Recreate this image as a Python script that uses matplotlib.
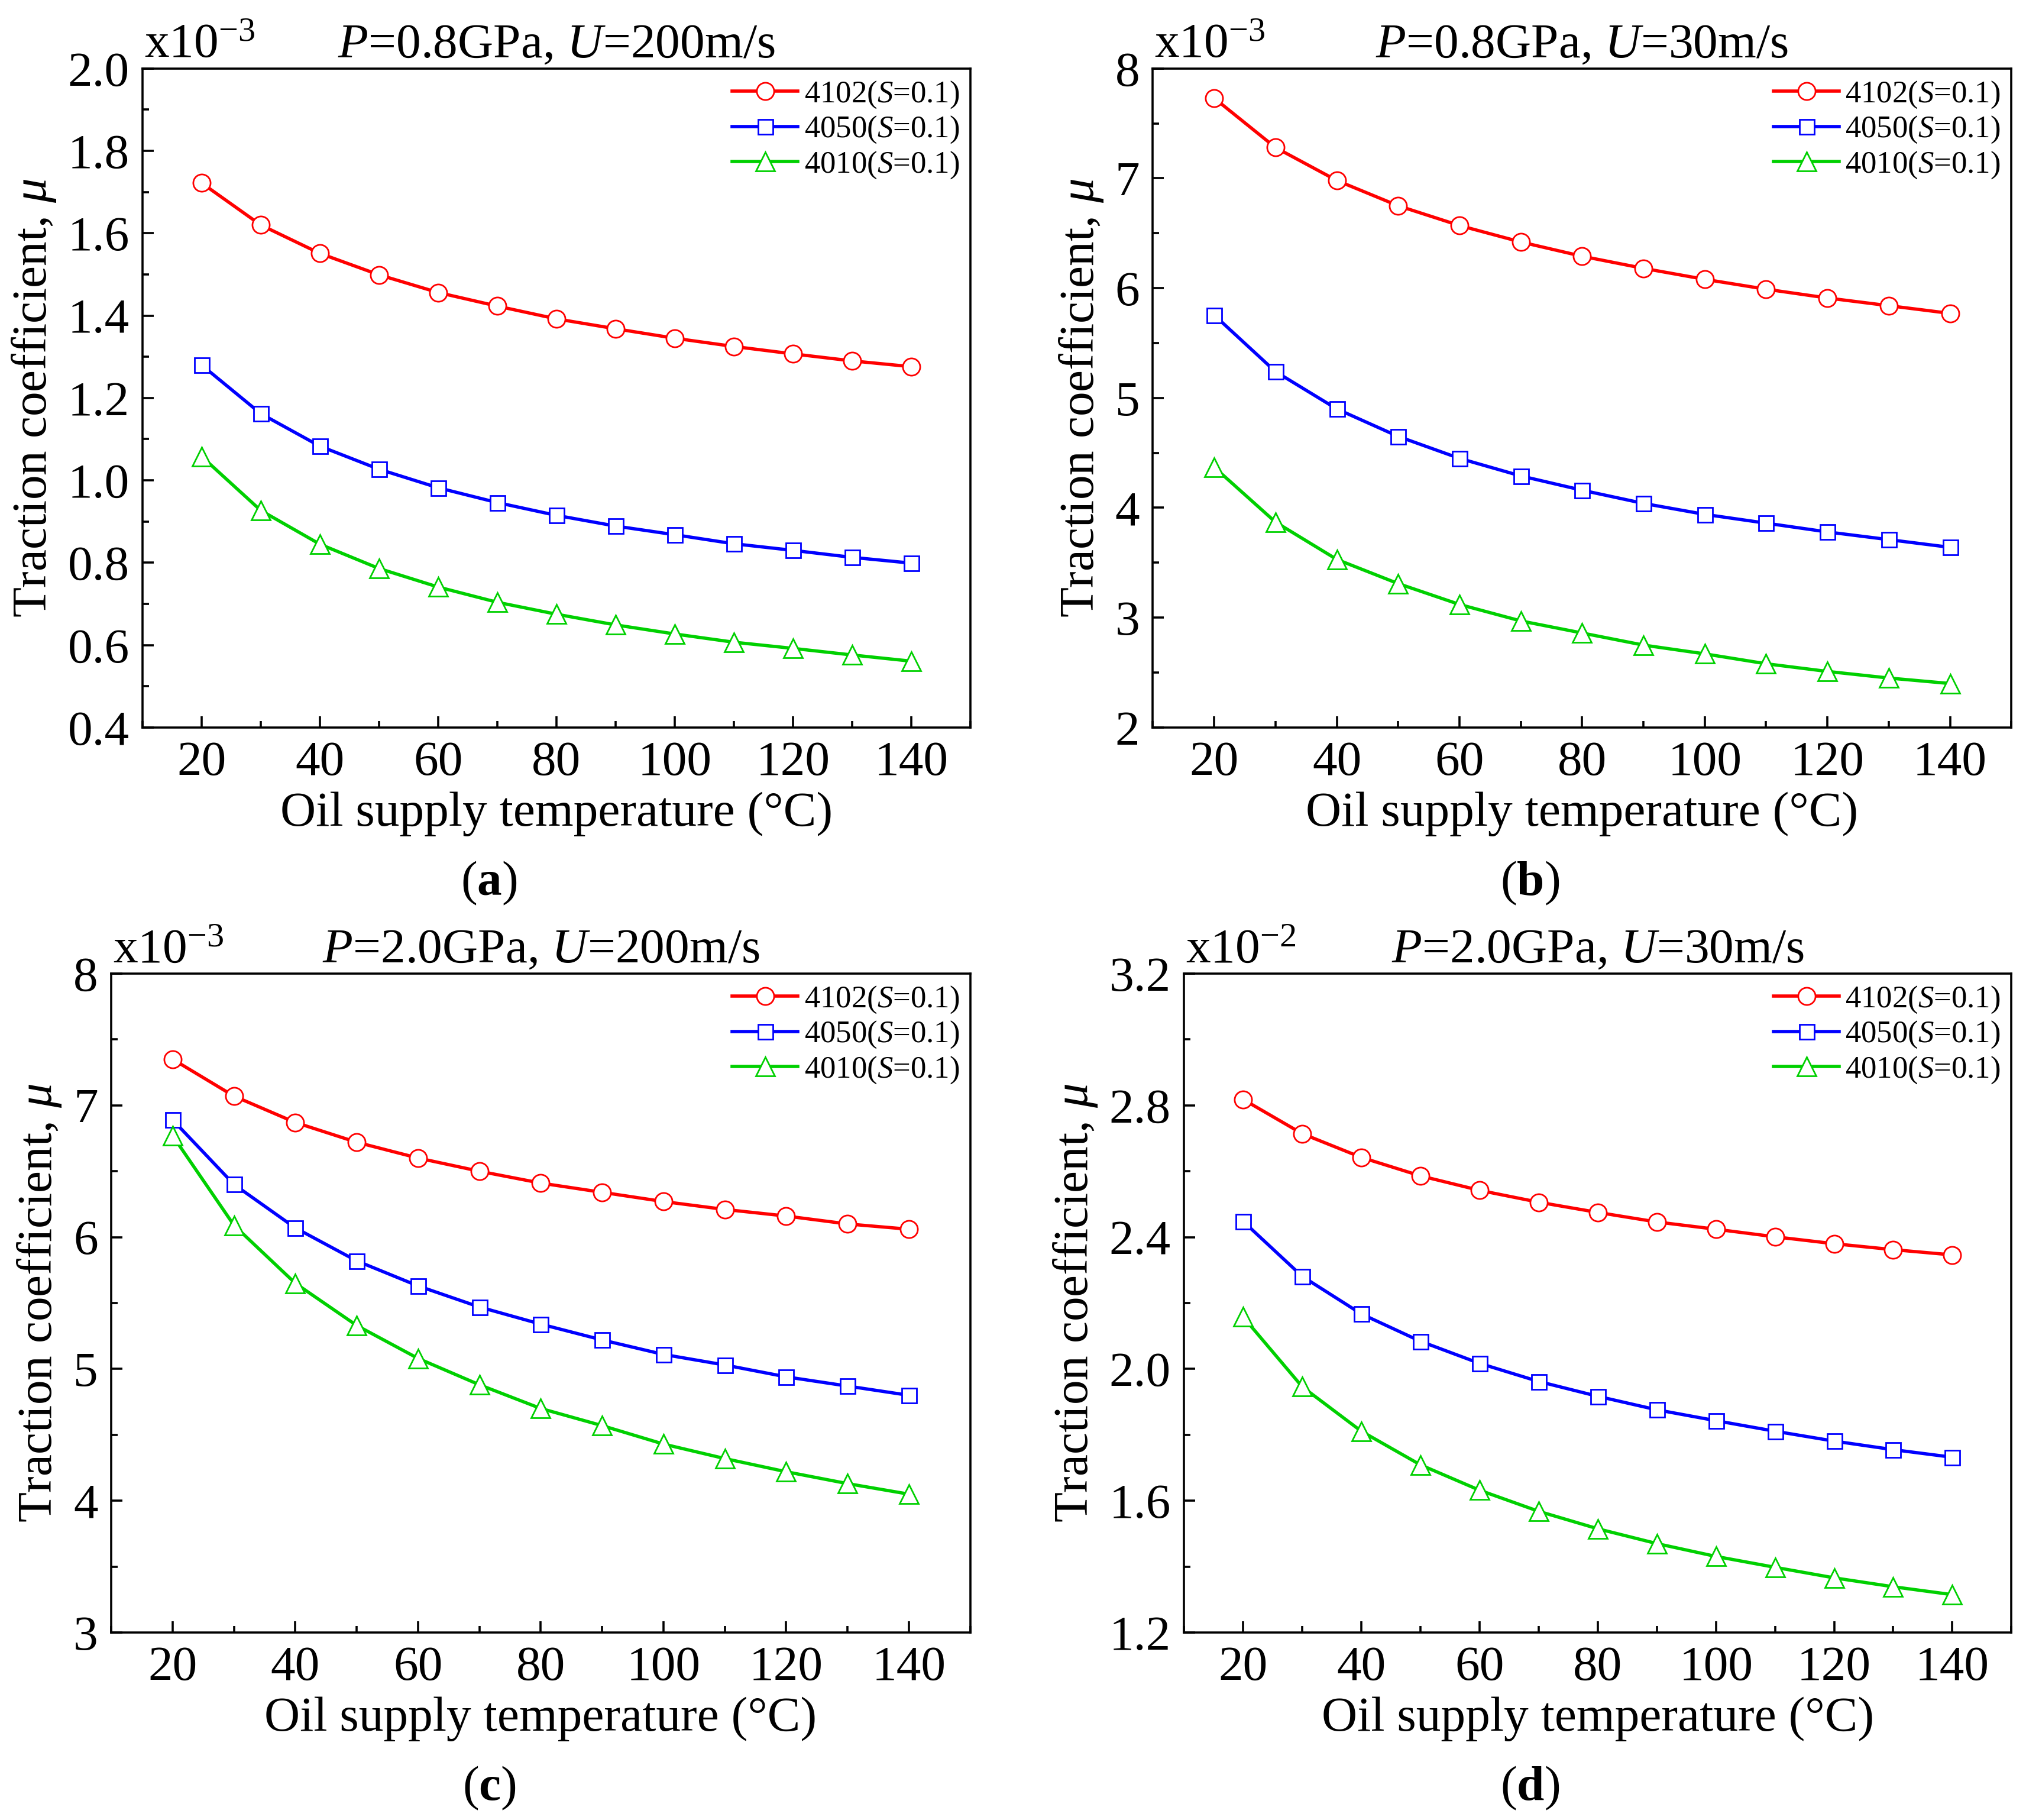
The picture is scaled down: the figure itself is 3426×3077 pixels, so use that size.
import numpy as np
import matplotlib.pyplot as plt
from matplotlib.ticker import MultipleLocator, FormatStrFormatter

plt.rcParams['font.family'] = 'Liberation Serif'
plt.rcParams['mathtext.fontset'] = 'custom'
plt.rcParams['mathtext.rm'] = 'Liberation Serif'
plt.rcParams['mathtext.it'] = 'Liberation Serif:italic'
plt.rcParams['mathtext.bf'] = 'Liberation Serif:bold'

# oil supply temperature (deg C)
temps = [20, 30, 40, 50, 60, 70, 80, 90, 100, 110, 120, 130, 140]
labels = ['4102($\\it{S}$=0.1)', '4050($\\it{S}$=0.1)', '4010($\\it{S}$=0.1)']

# (a) P=0.8GPa, U=200m/s  (x1e-3)
a_4102 = [1.722, 1.620, 1.551, 1.499, 1.456, 1.423, 1.392, 1.368, 1.345, 1.325, 1.307, 1.290, 1.276]
a_4050 = [1.280, 1.162, 1.083, 1.027, 0.982, 0.946, 0.915, 0.889, 0.868, 0.846, 0.830, 0.813, 0.799]
a_4010 = [1.058, 0.927, 0.845, 0.786, 0.741, 0.704, 0.675, 0.649, 0.627, 0.607, 0.592, 0.576, 0.561]

# (b) P=0.8GPa, U=30m/s  (x1e-3)
b_4102 = [7.73, 7.28, 6.98, 6.75, 6.57, 6.42, 6.29, 6.18, 6.08, 5.99, 5.91, 5.84, 5.77]
b_4050 = [5.755, 5.24, 4.90, 4.65, 4.45, 4.29, 4.16, 4.04, 3.94, 3.86, 3.78, 3.71, 3.64]
b_4010 = [4.37, 3.87, 3.53, 3.31, 3.12, 2.97, 2.86, 2.75, 2.67, 2.58, 2.51, 2.45, 2.40]

# (c) P=2.0GPa, U=200m/s  (x1e-3)
c_4102 = [7.35, 7.07, 6.87, 6.72, 6.60, 6.50, 6.41, 6.34, 6.27, 6.21, 6.16, 6.10, 6.06]
c_4050 = [6.89, 6.40, 6.07, 5.82, 5.63, 5.47, 5.34, 5.22, 5.11, 5.03, 4.94, 4.87, 4.80]
c_4010 = [6.77, 6.09, 5.65, 5.33, 5.08, 4.88, 4.70, 4.57, 4.43, 4.32, 4.22, 4.13, 4.05]

# (d) P=2.0GPa, U=30m/s  (x1e-2)
d_4102 = [2.818, 2.714, 2.642, 2.586, 2.542, 2.506, 2.475, 2.446, 2.424, 2.401, 2.380, 2.362, 2.346]
d_4050 = [2.448, 2.281, 2.167, 2.084, 2.017, 1.962, 1.917, 1.876, 1.843, 1.811, 1.781, 1.755, 1.732]
d_4010 = [2.158, 1.946, 1.811, 1.709, 1.632, 1.568, 1.515, 1.470, 1.431, 1.398, 1.366, 1.339, 1.315]

colors = ['#ff0000', '#0000ff', '#00d000']
markers = ['o', 's', '^']
msizes = [10.5, 9.0, 11.5]

FS = 30

fig = plt.figure(figsize=(17.13, 15.385), dpi=200)


def draw_panel(rect, series, ylim, ymaj, ymin, yfmt, title, scale, tag, tag_pos):
    ax = fig.add_axes(rect)
    for y, c, m, ms, lab in zip(series, colors, markers, msizes, labels):
        ax.plot(temps, y, color=c, lw=2.0, marker=m, ms=ms, mfc='white',
                mec=c, mew=1.0, label=lab)
    ax.set_xlim(10, 150)
    ax.set_ylim(*ylim)
    ax.xaxis.set_major_locator(MultipleLocator(20))
    ax.xaxis.set_minor_locator(MultipleLocator(10))
    ax.yaxis.set_major_locator(MultipleLocator(ymaj))
    ax.yaxis.set_minor_locator(MultipleLocator(ymin))
    ax.yaxis.set_major_formatter(FormatStrFormatter(yfmt))
    ax.tick_params(which='both', direction='in', top=False, right=False,
                   labelsize=FS, width=1.3, pad=8)
    ax.tick_params(which='major', length=7)
    ax.tick_params(which='minor', length=4)
    for s in ax.spines.values():
        s.set_linewidth(1.3)
    ax.set_xlabel('Oil supply temperature (°C)', fontsize=FS, labelpad=4)
    ax.set_ylabel('Traction coefficient, $\\mu$', fontsize=FS, labelpad=6)
    ax.annotate(title, xy=(0.5, 1), xycoords='axes fraction', xytext=(0, 7),
                textcoords='offset points', ha='center', va='baseline', fontsize=FS)
    ax.annotate(scale, xy=(0, 1), xycoords='axes fraction', xytext=(1, 7),
                textcoords='offset points', ha='left', va='baseline', fontsize=FS)
    ax.legend(loc='upper right', frameon=False, fontsize=19, handlelength=2.1,
              handletextpad=0.2, labelspacing=0.15, borderpad=0.2, borderaxespad=0.15)
    fig.text(tag_pos[0], tag_pos[1], tag, ha='center', va='center', fontsize=FS)
    return ax


draw_panel([0.0703, 0.6003, 0.4086, 0.3621], [a_4102, a_4050, a_4010],
           (0.4, 2.0), 0.2, 0.1, '%.1f',
           '$\\it{P}$=0.8GPa, $\\it{U}$=200m/s', 'x10$^{-3}$', '($\\mathbf{a}$)', (0.2414, 0.5148))
draw_panel([0.5690, 0.6003, 0.4238, 0.3621], [b_4102, b_4050, b_4010],
           (2, 8), 1, 0.5, '%d',
           '$\\it{P}$=0.8GPa, $\\it{U}$=30m/s', 'x10$^{-3}$', '($\\mathbf{b}$)', (0.7551, 0.5148))
draw_panel([0.0549, 0.1030, 0.4240, 0.3621], [c_4102, c_4050, c_4010],
           (3, 8), 1, 0.5, '%d',
           '$\\it{P}$=2.0GPa, $\\it{U}$=200m/s', 'x10$^{-3}$', '($\\mathbf{c}$)', (0.2414, 0.0175))
draw_panel([0.5844, 0.1030, 0.4084, 0.3621], [d_4102, d_4050, d_4010],
           (1.2, 3.2), 0.4, 0.2, '%.1f',
           '$\\it{P}$=2.0GPa, $\\it{U}$=30m/s', 'x10$^{-2}$', '($\\mathbf{d}$)', (0.7551, 0.0175))

fig.savefig('out.png', dpi=200)
